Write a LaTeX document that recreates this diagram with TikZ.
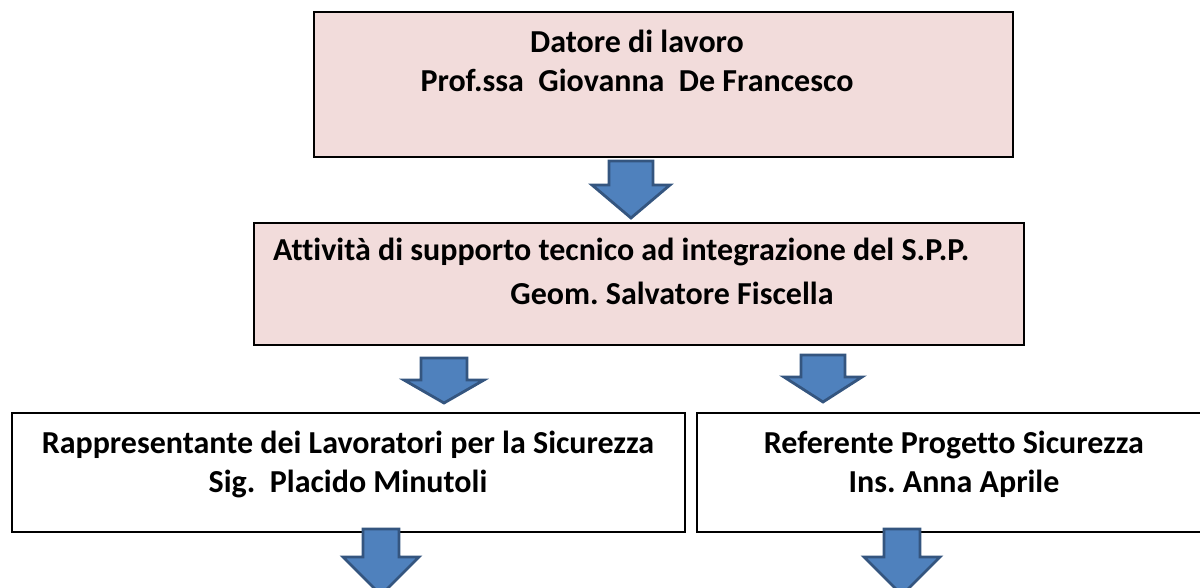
\documentclass[tikz,border=0pt]{standalone}
\usepackage{fontspec}
\setmainfont{Carlito}[Ligatures=NoCommon]
\usepackage{tikz}
\usetikzlibrary{positioning}
\frenchspacing

\definecolor{boxpink}{HTML}{F2DCDB}
\definecolor{arrowblue}{HTML}{4F81BD}
\definecolor{arrowline}{HTML}{34557F}

% freccia a blocco verso il basso: x, inizio, inizio punta, punta, mezzo gambo, mezza punta
\newcommand{\frecciagiu}[6]{%
  \filldraw[blockarrow] (#1-#5,#2) -- (#1+#5,#2) -- (#1+#5,#3) -- (#1+#6,#3)
    -- (#1,#4) -- (#1-#6,#3) -- (#1-#5,#3) -- cycle;}

\begin{document}
\begin{tikzpicture}[
    x=1pt, y=-1pt,
    orgbox/.style={draw=black, line width=2pt, inner sep=0pt},
    orgtext/.style={font=\fontsize{32}{39}\selectfont\bfseries, align=center, inner sep=0pt, anchor=base},
    blockarrow/.style={fill=arrowblue, draw=arrowline, line width=2.8pt, line join=miter}
]
\useasboundingbox (0,0) rectangle (1200,588);

% riquadri
\node[orgbox, fill=boxpink, minimum width=699pt, minimum height=145pt] (datore) at (663.5,84.5) {};
\node[orgbox, fill=boxpink, line width=1.3pt, minimum width=770pt, minimum height=122pt] (spp) at (639,284) {};
\node[orgbox, fill=white, minimum width=673pt, minimum height=119pt] (rls) at (348.5,472.5) {};
\node[orgbox, fill=white, minimum width=506pt, minimum height=119pt] (referente) at (950,472.5) {};

% testi (ancora sulla linea di base dell'ultima riga)
\node[orgtext] (datore-txt) at (637,92) {Datore di lavoro\\Prof.ssa\ \ Giovanna\ \ De Francesco};
\node[orgtext, anchor=base west] (spp-txt) at (273,261) {Attività di supporto tecnico ad integrazione del S.P.P.};
\node[orgtext] (spp-nome) at (672,305) {Geom. Salvatore Fiscella};
\node[orgtext] (rls-txt) at (348,492) {Rappresentante dei Lavoratori per la Sicurezza\\Sig.\ \ Placido Minutoli};
\node[orgtext] (referente-txt) at (954,492) {Referente Progetto Sicurezza\\Ins. Anna Aprile};

% frecce
\frecciagiu{631}{161}{185}{218}{22}{39}
\frecciagiu{444}{358}{380}{403}{23}{40}
\frecciagiu{823}{355}{377}{402}{22}{39}
\frecciagiu{381}{529}{557}{595}{18}{38}
\frecciagiu{902}{529}{557}{595}{18}{38}

\end{tikzpicture}
\end{document}
